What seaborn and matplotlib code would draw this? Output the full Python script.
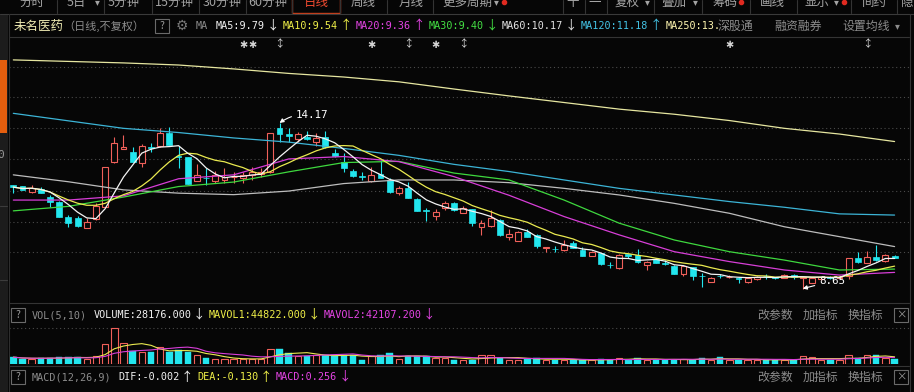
# plot.py: daily candle chart of 未名医药 with volume pane (dark trading-software look)

import numpy as np
import pandas as pd
import matplotlib
matplotlib.use("Agg")
import matplotlib.pyplot as plt
from matplotlib.patches import Rectangle
from matplotlib.lines import Line2D
import seaborn as sns

W, H = 914, 392

# daily candles (97 sessions)
opens = [12.10, 12.06, 11.87, 11.98, 11.69, 11.53, 11.03, 11.00, 10.66, 10.96,
         11.38, 12.88, 13.29, 13.21, 12.85, 13.36, 13.41, 13.85, 13.08, 13.05,
         12.25, 12.34, 12.24, 12.27, 12.36, 12.33, 12.44, 12.46, 12.55, 13.99,
         13.80, 13.63, 13.71, 13.55, 13.71, 13.18, 12.88, 12.58, 12.39, 12.24,
         12.46, 12.27, 11.85, 12.01, 11.63, 11.26, 11.07, 11.33, 11.51, 11.18,
         11.29, 10.71, 10.75, 10.94, 10.36, 10.24, 10.55, 10.44, 9.99, 9.98,
         9.94, 10.18, 9.94, 9.74, 9.83, 9.45, 9.33, 9.79, 9.77, 9.44,
         9.63, 9.50, 9.40, 9.13, 9.36, 9.08, 8.88, 9.08, 9.03, 9.00,
         8.86, 8.96, 9.08, 9.03, 8.99, 9.10, 9.00, 8.85, 8.98, 9.02,
         9.00, 9.07, 9.66, 9.51, 9.69, 9.57, 9.74]
highs = [12.10, 12.06, 12.09, 12.05, 11.77, 11.58, 11.10, 11.07, 10.99, 11.49,
         12.69, 13.69, 13.76, 13.36, 13.47, 13.49, 13.99, 14.03, 13.40, 13.05,
         12.80, 12.66, 12.58, 12.66, 12.55, 12.55, 12.71, 12.66, 13.85, 14.17,
         13.99, 13.88, 13.91, 13.83, 13.91, 13.29, 13.16, 12.62, 12.52, 12.69,
         12.94, 12.33, 12.07, 12.19, 11.68, 11.33, 11.31, 11.58, 11.53, 11.40,
         11.31, 10.94, 11.27, 10.96, 10.63, 10.58, 10.63, 10.47, 10.05, 10.07,
         10.27, 10.25, 10.03, 9.91, 9.85, 9.55, 9.79, 9.80, 9.96, 9.57,
         9.66, 9.60, 9.42, 9.45, 9.38, 9.16, 9.04, 9.13, 9.10, 9.02,
         9.01, 9.07, 9.13, 9.05, 9.15, 9.13, 9.05, 9.01, 9.05, 9.06,
         9.08, 9.66, 9.88, 9.90, 10.10, 9.79, 9.76]
lows = [11.85, 11.94, 11.83, 11.83, 11.38, 11.02, 10.69, 10.69, 10.66, 10.94,
        11.38, 12.83, 13.29, 12.88, 12.71, 13.19, 13.36, 13.44, 12.66, 12.14,
        12.25, 12.10, 12.16, 12.16, 12.18, 12.16, 12.27, 12.38, 12.50, 13.55,
        13.55, 13.55, 13.60, 13.40, 13.34, 13.05, 12.55, 12.38, 12.27, 12.21,
        12.33, 11.83, 11.77, 11.66, 11.25, 10.90, 10.94, 11.27, 11.25, 11.18,
        10.75, 10.44, 10.71, 10.40, 10.27, 10.22, 10.38, 9.99, 9.88, 9.86,
        9.91, 9.99, 9.75, 9.72, 9.44, 9.33, 9.31, 9.68, 9.49, 9.27,
        9.50, 9.42, 9.13, 9.08, 8.94, 8.71, 8.86, 9.00, 9.00, 8.83,
        8.85, 8.95, 8.96, 8.98, 8.99, 8.98, 8.65, 8.83, 8.95, 8.97,
        8.98, 8.96, 9.51, 9.49, 9.58, 9.55, 9.66]
closes = [12.03, 11.94, 12.01, 11.83, 11.53, 11.05, 10.83, 10.74, 10.88, 11.41,
          12.69, 13.49, 13.36, 12.88, 13.40, 13.34, 13.85, 13.44, 13.03, 12.14,
          12.43, 12.32, 12.43, 12.38, 12.38, 12.44, 12.55, 12.55, 13.85, 13.80,
          13.72, 13.80, 13.63, 13.68, 13.36, 13.08, 12.68, 12.41, 12.37, 12.43,
          12.35, 11.88, 12.00, 11.66, 11.25, 11.24, 11.21, 11.49, 11.27, 11.33,
          10.83, 10.83, 11.01, 10.44, 10.47, 10.55, 10.38, 10.07, 10.05, 9.96,
          10.10, 9.99, 9.75, 9.88, 9.46, 9.43, 9.77, 9.73, 9.55, 9.55,
          9.51, 9.48, 9.13, 9.40, 9.07, 9.06, 8.99, 9.06, 9.05, 8.98,
          8.99, 9.05, 9.06, 9.01, 9.10, 9.03, 9.03, 8.99, 9.02, 9.00,
          9.04, 9.66, 9.55, 9.69, 9.60, 9.77, 9.66]
volumes = [37000, 28000, 28000, 30000, 33000, 38000, 38000, 38000, 28000, 41000,
           112000, 202000, 116000, 71000, 65000, 65000, 97000, 65000, 78000, 65000,
           47000, 34000, 28000, 26000, 26000, 28000, 28000, 28000, 84000, 84000,
           62000, 41000, 41000, 47000, 52000, 47000, 47000, 47000, 22000, 41000,
           47000, 62000, 28000, 41000, 41000, 41000, 34000, 34000, 22000, 22000,
           22000, 47000, 47000, 34000, 22000, 22000, 28000, 34000, 22000, 22000,
           22000, 22000, 19000, 19000, 28000, 22000, 34000, 22000, 34000, 22000,
           22000, 22000, 22000, 28000, 22000, 34000, 22000, 37000, 22000, 22000,
           22000, 22000, 22000, 22000, 22000, 22000, 41000, 37000, 22000, 22000,
           22000, 52000, 34000, 47000, 52000, 34000, 28176]

# longer moving averages, read every 6 sessions
ma_idx = list(range(0, 97, 6))
ma20 = [11.60, 11.60, 11.74, 12.31, 12.44, 12.97, 13.05, 12.88, 12.38,
        11.76, 11.05, 10.44, 9.88, 9.55, 9.27, 9.10, 9.19]
ma30 = [11.24, 11.39, 11.70, 12.05, 12.20, 12.54, 12.85, 12.89, 12.50,
        12.27, 11.60, 10.83, 10.27, 9.88, 9.60, 9.27, 9.30]
ma60 = [12.44, 12.21, 11.94, 11.83, 11.78, 11.90, 12.15, 12.27, 12.27,
        12.18, 11.99, 11.77, 11.49, 11.16, 10.71, 10.38, 10.05]
ma120 = [14.49, 14.24, 13.99, 13.85, 13.67, 13.53, 13.32, 13.09, 12.79,
         12.55, 12.27, 11.99, 11.77, 11.55, 11.36, 11.14, 11.10]
ma250 = [16.27, 16.22, 16.17, 16.10, 15.97, 15.82, 15.70, 15.54, 15.30,
         15.07, 14.85, 14.63, 14.46, 14.25, 13.99, 13.80, 13.55]

grid_levels = [16.04, 15.04, 14.0, 12.97, 11.9, 10.87, 9.87]
vol_grid = 203000

header_ma = [("MA5:9.79", "↓", "#f2f2f2"), ("MA10:9.54", "↑", "#f0f048"),
             ("MA20:9.36", "↑", "#e444e4"), ("MA30:9.40", "↓", "#44e044"),
             ("MA60:10.17", "↓", "#e2e2e2"), ("MA120:11.18", "↑", "#44c4e6"),
             ("MA250:13.", "", "#fff6b0")]
vol_head = [("VOLUME:28176.000", "↓", "#f2f2f2"), ("MAVOL1:44822.000", "↓", "#f0f048"),
            ("MAVOL2:42107.200", "↓", "#e444e4")]
macd_head = [("DIF:-0.002", "↑", "#f2f2f2"), ("DEA:-0.130", "↑", "#f0f048"),
             ("MACD:0.256", "↓", "#e444e4")]
tabs = ["分时", "5日", "5分钟", "15分钟", "30分钟", "60分钟", "日线", "周线", "月线", "更多周期"]
tools = ["十", "一", "复权", "叠加", "筹码", "画线", "显示", "间约", "隐"]

BG = "#060606"
RED = "#f0605a"
CYAN = "#22e6ee"
GRAY = "#8c8c8c"
LINE = "#343434"
CJK = ["Noto Sans CJK SC", "DejaVu Sans"]
MONO = ["DejaVu Sans Mono", "Noto Sans CJK SC"]

sns.set_theme(style="dark", rc={"axes.facecolor": BG, "figure.facecolor": BG})
plt.rcParams["font.family"] = CJK

fig = plt.figure(figsize=(W / 100, H / 100), dpi=100)


def fx(x):
    return x / W


def fy(y):
    return 1 - y / H


def label(x, y, s, color=GRAY, size=7.3, family=MONO, ha="left"):
    fig.text(fx(x), fy(y), s, color=color, fontsize=size, family=family, ha=ha, va="center")


def hline(y, x0=0, x1=W, color=LINE, lw=0.8):
    fig.add_artist(Line2D([fx(x0), fx(x1)], [fy(y), fy(y)], color=color, lw=lw))


def vline(x, y0, y1, color=LINE, lw=0.8):
    fig.add_artist(Line2D([fx(x), fx(x)], [fy(y0), fy(y1)], color=color, lw=lw))


def button(x, y, s):
    fig.add_artist(Rectangle((fx(x), fy(y + 7)), 14 / W, 14 / H, fill=False,
                             edgecolor="#6a6a6a", lw=0.8))
    label(x + 7, y, s, "#9a9a9a", 7.5, CJK, ha="center")


df = pd.DataFrame({"o": opens, "h": highs, "l": lows, "c": closes, "v": volumes})
df["i"] = np.arange(len(df))
df["ma5"] = df["c"].rolling(5, min_periods=1).mean()
df["ma10"] = df["c"].rolling(10, min_periods=1).mean()
df["mv5"] = df["v"].rolling(5, min_periods=1).mean()
df["mv10"] = df["v"].rolling(10, min_periods=1).mean()
up = df["c"] > df["o"]
colors = np.where(up, RED, CYAN)
body = (df["c"] - df["o"]).abs().clip(lower=0.02)
bottom = df[["o", "c"]].min(axis=1)

# ---- price pane ----
ax = fig.add_axes([fx(9), fy(303), 900 / W, (303 - 38) / H])
for lv in grid_levels:
    ax.axhline(lv, color="#4a4a4a", lw=0.8, ls=(0, (1, 2.5)), zorder=1)
ax.vlines(df["i"], df["l"], df["h"], colors=colors, lw=0.8, zorder=2)
ax.bar(df["i"][up], body[up], bottom=bottom[up], width=0.64,
       facecolor=BG, edgecolor=RED, lw=0.8, zorder=3)
ax.bar(df["i"][~up], body[~up], bottom=bottom[~up], width=0.64,
       facecolor=CYAN, edgecolor=CYAN, lw=0.5, zorder=3)

sns.lineplot(x=ma_idx, y=ma250, ax=ax, color="#e6e6a0", lw=0.9, zorder=4)
sns.lineplot(x=ma_idx, y=ma120, ax=ax, color="#3cb4d6", lw=0.9, zorder=4)
sns.lineplot(x=ma_idx, y=ma60, ax=ax, color="#bdbdbd", lw=0.9, zorder=4)
sns.lineplot(x=ma_idx, y=ma30, ax=ax, color="#3ed83e", lw=0.9, zorder=4)
sns.lineplot(x=ma_idx, y=ma20, ax=ax, color="#d83ed8", lw=0.9, zorder=4)
sns.lineplot(x=df["i"], y=df["ma10"], ax=ax, color="#eaea50", lw=0.9, zorder=4)
sns.lineplot(x=df["i"], y=df["ma5"], ax=ax, color="#f4f4f4", lw=0.9, zorder=4)

hi = df["h"].idxmax()
lo = df["l"].idxmin()
ax.annotate(f"{df['h'][hi]:.2f}", xy=(hi, df["h"][hi]), xytext=(hi + 1.8, df["h"][hi] + 0.27),
            color="white", fontsize=7.8, family=MONO, va="center",
            arrowprops=dict(arrowstyle="-|>", color="white", lw=0.8, mutation_scale=6,
                            shrinkA=1, shrinkB=0, connectionstyle="arc3,rad=0.2"))
ax.annotate(f"{df['l'][lo]:.2f}", xy=(lo, df["l"][lo]), xytext=(lo + 1.8, df["l"][lo] + 0.25),
            color="white", fontsize=7.8, family=MONO, va="center",
            arrowprops=dict(arrowstyle="-|>", color="white", lw=0.8, mutation_scale=6,
                            shrinkA=1, shrinkB=0))
ax.set_xlim(-0.47, 97.57)
ax.set_ylim(8.17, 17.0)
ax.axis("off")

# ---- volume pane ----
axv = fig.add_axes([fx(9), fy(364), 900 / W, 40 / H])
axv.axhline(vol_grid, color="#4a4a4a", lw=0.8, ls=(0, (1, 2.5)), zorder=1)
axv.bar(df["i"][up], df["v"][up], width=0.7, facecolor=BG, edgecolor=RED, lw=0.8, zorder=2)
axv.bar(df["i"][~up], df["v"][~up], width=0.7, facecolor=CYAN, edgecolor=CYAN, lw=0.3, zorder=2)
sns.lineplot(x=df["i"], y=df["mv5"], ax=axv, color="#eaea50", lw=0.8, zorder=3)
sns.lineplot(x=df["i"], y=df["mv10"], ax=axv, color="#d83ed8", lw=0.8, zorder=3)
axv.set_xlim(-0.47, 97.57)
axv.set_ylim(-1500, 224000)
axv.axis("off")

# ---- frame lines and side strip ----
fig.add_artist(Rectangle((0, 0), fx(8), fy(14), color="#1c1c1c", lw=0))
fig.add_artist(Rectangle((0, fy(133)), fx(7), 73 / H, color="#e45e0e", lw=0))
hline(206, 0, 7, "#3c3c3c")
hline(280, 0, 7, "#3c3c3c")
label(-3, 155, "0", "#9a9a9a", 8, MONO)
hline(13.5, 0, W, "#3a3a3a")
hline(37, 9, 909)
hline(303, 9, 909)
hline(366, 9, 909)
vline(8.5, 14, H, "#2e2e2e")
vline(909.5, 14, H)

# ---- toolbar (cut off at the top) ----
tab_x = [32, 76, 124, 174, 222, 268, 316, 363, 411, 467]
for x, s in zip(tab_x, tabs):
    label(x, 2.5, s, "#f04a30" if s == "日线" else "#a4a4a4", 9, CJK, ha="center")
for x in [57, 104, 152, 199, 246, 292, 340, 387, 433, 563, 585, 607, 654, 702, 750, 797, 851, 897]:
    vline(x, 0, 12.5)
fig.add_artist(Rectangle((fx(292), fy(12.5)), 48 / W, 16 / H, fill=False,
                         edgecolor="#c8401c", lw=1.0))
tool_x = [573, 595, 627, 674, 725, 772, 817, 874, 907]
for x, s in zip(tool_x, tools):
    label(x, 2.5, s, "#a4a4a4", 9, CJK, ha="center")
for x in [97, 496, 647, 695, 836]:
    label(x, 2.5, "▾", "#a4a4a4", 7, CJK, ha="center")
for x in [504, 741, 844]:
    fig.add_artist(Line2D([fx(x)], [fy(1.5)], marker="o", ms=3, color="#e02a20", lw=0))

# ---- price header ----
label(14, 26, "未名医药", "#f2eeb4", 9, CJK)
label(63, 26, "（日线,不复权）", GRAY, 8, CJK)
button(155, 26, "?")
label(182, 26, "⚙", "#7a7a7a", 10, CJK, ha="center")
label(196, 26, "MA", GRAY)
ma_x = [216, 283, 356, 429, 502, 581, 666]
for x, (s, arrow, c) in zip(ma_x, header_ma):
    label(x, 26, s, c)
    if arrow:
        label(x + len(s) * 6.08 + 8, 26, arrow, c, 9, CJK, ha="center")
label(718, 26, "深股通", GRAY, 8.6, CJK)
label(774, 26, "融资融券", GRAY, 8.6, CJK)
label(842, 26, "设置均线", GRAY, 8.6, CJK)
label(897, 26, "▾", GRAY, 7, CJK, ha="center")
for x in [243, 252, 371, 435, 729]:
    label(x, 44.5, "✱", "#d4d4d4", 7, CJK, ha="center")
for x in [279, 408, 463, 867]:
    label(x, 44.5, "↕", "#d4d4d4", 7.5, CJK, ha="center")

# ---- lower pane headers ----
for y, name, items, xs in [(315, "VOL(5,10)", vol_head, [94, 209, 324]),
                           (377, "MACD(12,26,9)", macd_head, [118, 197, 276])]:
    button(11, y, "?")
    label(32, y, name, GRAY)
    for x, (s, arrow, c) in zip(xs, items):
        label(x, y, s, c)
        label(x + len(s) * 6.08 + 8, y, arrow, c, 9, CJK, ha="center")
    for x, s in zip([757, 803, 848], ["改参数", "加指标", "换指标"]):
        label(x, y, s, GRAY, 8.6, CJK)
    button(894, y, "×")

fig.savefig("out.png", dpi=100, facecolor=BG)
